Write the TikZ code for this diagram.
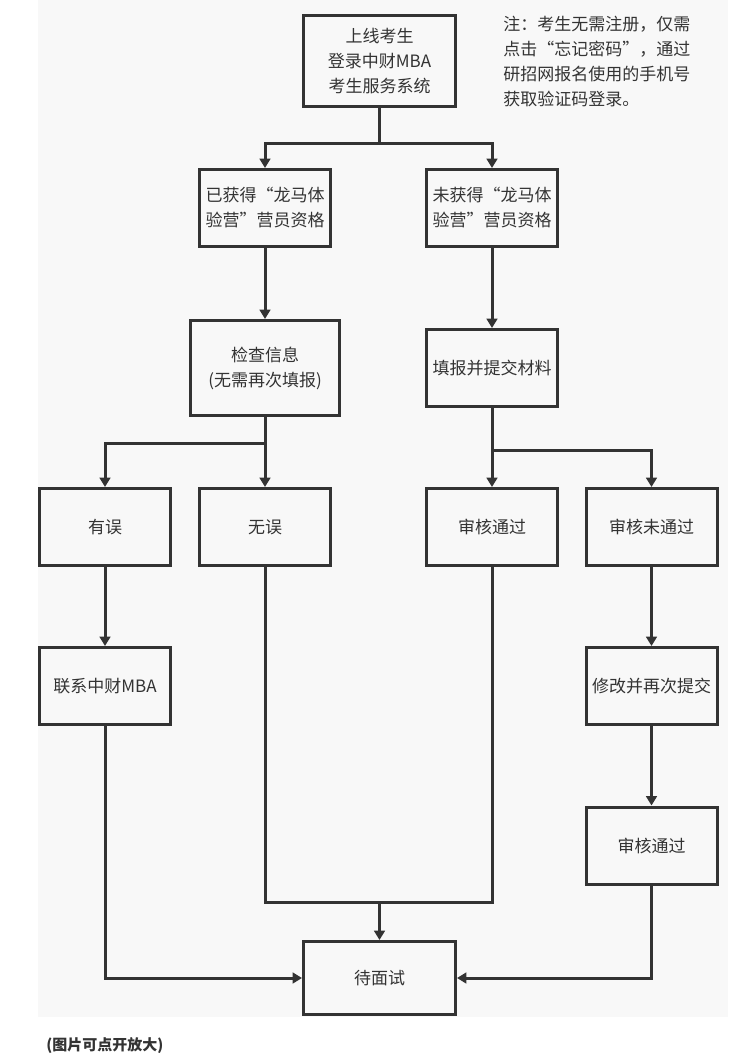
\documentclass[tikz,border=0pt]{standalone}
\usepackage{fontspec}
\usepackage{xcolor}
\usepackage{tikz}
\usetikzlibrary{arrows.meta}
\setmainfont{Noto Sans CJK SC}
\newfontfamily\quotefont[RawFeature=+fwid]{Noto Sans CJK SC}
\definecolor{ink}{HTML}{333333}
\definecolor{paper}{HTML}{F8F8F8}

\begin{document}
\begin{tikzpicture}[x=0.75pt,y=0.75pt,yscale=-1,xscale=1,
  flowbox/.style={draw=ink,line width=2.25pt,text=ink,align=center,inner sep=0.75pt,minimum width=98.25pt,minimum height=57.75pt,font=\fontsize{12.75}{18.75}\selectfont},
  flowline/.style={draw=ink,line width=2.25pt},
  flowarrow/.style={flowline,-{Triangle[width=8pt,length=7pt]}}]
\useasboundingbox (0,0) rectangle (736,1055);
\fill[paper] (38,0) rectangle (728,1017);

\draw (379.5,61) node [flowbox,minimum width=114pt,minimum height=68.25pt] (login) {上线考生\\登录中财MBA\\考生服务系统};
\draw (503,16) node [anchor=north west,inner sep=0pt,align=left,text=ink,font=\quotefont\fontsize{12.75}{18.75}\selectfont] (note) {注：考生无需注册，仅需\\点击“忘记密码”，通过\\研招网报名使用的手机号\\获取验证码登录。};
\draw (265,208) node [flowbox,font=\quotefont\fontsize{12.75}{18.75}\selectfont] (got) {已获得“龙马体\\验营”营员资格};
\draw (492,208) node [flowbox,font=\quotefont\fontsize{12.75}{18.75}\selectfont] (notgot) {未获得“龙马体\\验营”营员资格};
\draw (265,368) node [flowbox,minimum width=111.75pt,minimum height=71.25pt] (check) {检查信息\\(无需再次填报)};
\draw (492,368) node [flowbox] (submit) {填报并提交材料};
\draw (105,527) node [flowbox] (wrong) {有误};
\draw (265,527) node [flowbox] (right) {无误};
\draw (492,527) node [flowbox] (pass) {审核通过};
\draw (651.5,527) node [flowbox] (fail) {审核未通过};
\draw (105,686) node [flowbox] (contact) {联系中财MBA};
\draw (651.5,686) node [flowbox] (resubmit) {修改并再次提交};
\draw (651.5,845.5) node [flowbox] (passagain) {审核通过};
\draw (379.5,978) node [flowbox,minimum width=114pt,minimum height=54.75pt] (interview) {待面试};
\draw (46,1046) node [anchor=west,inner sep=0pt,text=ink,font=\bfseries\fontsize{11.25}{13}\selectfont] (hint) {(图片可点开放大)};

\coordinate (split1) at (379.5,144);
\coordinate (split2) at (265,443);
\coordinate (split3) at (492,450);
\coordinate (merge) at (379.5,902);

\draw [flowline] (login.south) -- (split1);
\draw [flowarrow] (split1) -| (got.north);
\draw [flowarrow] (split1) -| (notgot.north);
\draw [flowarrow] (got.south) -- (check.north);
\draw [flowarrow] (notgot.south) -- (submit.north);
\draw [flowline] (check.south) -- (split2);
\draw [flowarrow] (split2) -| (wrong.north);
\draw [flowarrow] (split2) -- (right.north);
\draw [flowline] (submit.south) -- (split3);
\draw [flowarrow] (split3) -- (pass.north);
\draw [flowarrow] (split3) -| (fail.north);
\draw [flowarrow] (wrong.south) -- (contact.north);
\draw [flowarrow] (fail.south) -- (resubmit.north);
\draw [flowarrow] (resubmit.south) -- (passagain.north);
\draw [flowline] (right.south) -- (right.south |- merge) -- (pass.south |- merge) -- (pass.south);
\draw [flowarrow] (merge) -- (interview.north);
\draw [flowarrow] (contact.south) |- (interview.west);
\draw [flowarrow] (passagain.south) |- (interview.east);
\end{tikzpicture}
\end{document}
